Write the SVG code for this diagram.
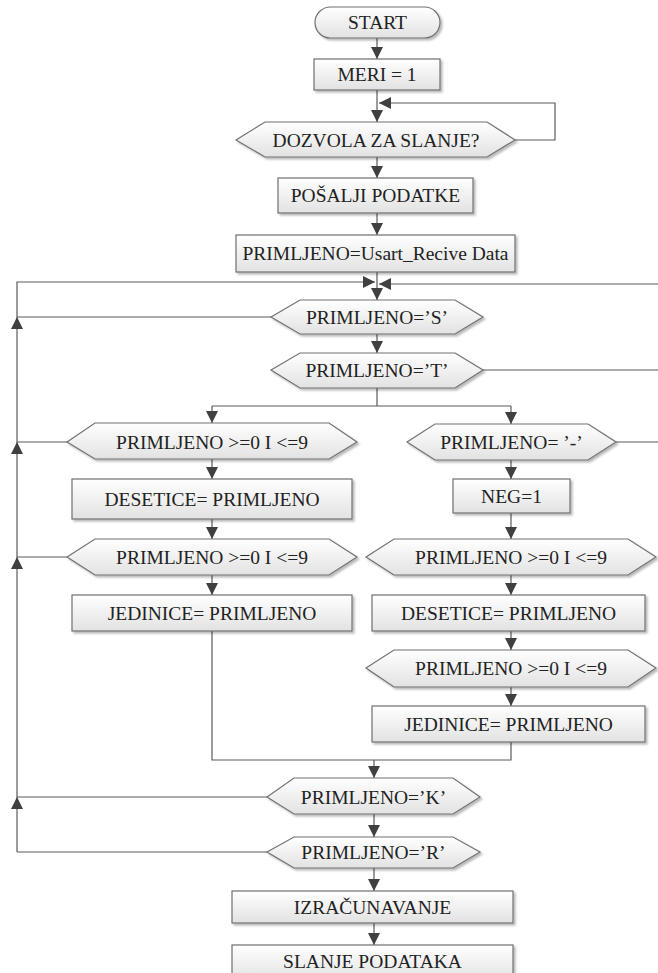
<svg xmlns="http://www.w3.org/2000/svg" width="658" height="973" viewBox="0 0 658 973">
<defs>
<linearGradient id="g" x1="0" y1="0" x2="0" y2="1">
<stop offset="0" stop-color="#ffffff"/>
<stop offset="1" stop-color="#e2e2e2"/>
</linearGradient>
<filter id="sh" x="-10%" y="-20%" width="130%" height="160%">
<feDropShadow dx="2" dy="2" stdDeviation="1" flood-color="#000" flood-opacity="0.28"/>
</filter>
<marker id="a" markerUnits="userSpaceOnUse" markerWidth="12" markerHeight="12" viewBox="0 0 10 10" refX="10" refY="5" orient="auto">
<path d="M0,0 L10,5 L0,10 Z" fill="#404040"/>
</marker>
</defs>
<style>
.n{fill:url(#g);stroke:#707070;stroke-width:1.2;filter:url(#sh)}
.t{font-family:'Liberation Serif','Times New Roman',serif;font-size:19.5px;fill:#222222;text-anchor:middle}
.c{fill:none;stroke:#5a5a5a;stroke-width:1.2}
.ar{marker-end:url(#a)}
</style>
<rect width="658" height="973" fill="#ffffff"/>
<g id="connectors">
<path class="c ar" d="M377,38 V59"/>
<path class="c ar" d="M377,90 V122"/>
<path class="c ar" d="M515,140 H555 V103 H379"/>
<path class="c ar" d="M377,157 V178"/>
<path class="c ar" d="M377,213 V235"/>
<path class="c ar" d="M377,272 V300"/>
<path class="c ar" d="M17,317 V282 H375"/>
<path class="c ar" d="M658,284 H379"/>
<path class="c ar" d="M377,334 V353"/>
<path class="c" d="M483,370 H658"/>
<path class="c" d="M377,388 V406 M212,406 H511"/>
<path class="c ar" d="M212,406 V423"/>
<path class="c ar" d="M511,406 V424"/>
<path class="c" d="M271,317 H17"/>
<path class="c" d="M616,442 H658"/>
<path class="c" d="M67,442 H17"/>
<path class="c ar" d="M17,442 V317"/>
<path class="c ar" d="M212,459 V479"/>
<path class="c ar" d="M212,519 V539"/>
<path class="c" d="M67,557 H17"/>
<path class="c ar" d="M17,557 V442"/>
<path class="c ar" d="M212,575 V595"/>
<path class="c" d="M212,631 V760 H511 V742"/>
<path class="c ar" d="M511,460 V479"/>
<path class="c ar" d="M511,513 V539"/>
<path class="c ar" d="M511,575 V595"/>
<path class="c ar" d="M511,631 V650"/>
<path class="c ar" d="M511,687 V706"/>
<path class="c ar" d="M374,760 V778"/>
<path class="c" d="M267,797 H17"/>
<path class="c ar" d="M17,797 V557"/>
<path class="c ar" d="M374,814 V837"/>
<path class="c" d="M267,852 H17"/>
<path class="c ar" d="M17,852 V797"/>
<path class="c ar" d="M374,868 V891"/>
<path class="c ar" d="M374,923 V945"/>
</g>
<g id="start"><rect class="n" x="315" y="7" width="125" height="31" rx="15.5"/><text class="t" x="377.5" y="29">START</text></g>
<g id="meri"><rect class="n" x="314" y="59" width="126" height="31"/><text class="t" x="377" y="81">MERI = 1</text></g>
<g id="dozvola"><path class="n" d="M236,140 L265,122 H487 L515,140 L487,157 H265 Z"/><text class="t" x="376" y="146.5">DOZVOLA ZA SLANJE?</text></g>
<g id="posalji"><rect class="n" x="278" y="178" width="195" height="35"/><text class="t" x="375.5" y="202">POŠALJI PODATKE</text></g>
<g id="usart"><rect class="n" x="236" y="235" width="279" height="37"/><text class="t" x="375.5" y="260">PRIMLJENO=Usart_Recive Data</text></g>
<g id="s"><path class="n" d="M271,317 L300,300 H455 L483,317 L455,334 H300 Z"/><text class="t" x="377" y="323.5">PRIMLJENO=’S’</text></g>
<g id="t"><path class="n" d="M271,370 L300,353 H455 L483,370 L455,388 H300 Z"/><text class="t" x="377" y="377">PRIMLJENO=’T’</text></g>
<g id="lhex1"><path class="n" d="M67,442 L95,423 H329 L357,442 L329,459 H95 Z"/><text class="t" x="212" y="448.5">PRIMLJENO &gt;=0 I &lt;=9</text></g>
<g id="minus"><path class="n" d="M407,442 L435,424 H588 L616,442 L588,460 H435 Z"/><text class="t" x="511.5" y="448.5">PRIMLJENO= ’-’</text></g>
<g id="ldes"><rect class="n" x="72" y="479" width="280" height="40"/><text class="t" x="212" y="505.5">DESETICE= PRIMLJENO</text></g>
<g id="neg"><rect class="n" x="453" y="479" width="117" height="34"/><text class="t" x="511.5" y="502.5">NEG=1</text></g>
<g id="lhex2"><path class="n" d="M67,557 L95,539 H329 L357,557 L329,575 H95 Z"/><text class="t" x="212" y="563.5">PRIMLJENO &gt;=0 I &lt;=9</text></g>
<g id="rhex1"><path class="n" d="M366,557 L394,539 H628 L656,557 L628,575 H394 Z"/><text class="t" x="511" y="563.5">PRIMLJENO &gt;=0 I &lt;=9</text></g>
<g id="ljed"><rect class="n" x="72" y="595" width="280" height="36"/><text class="t" x="212" y="619.5">JEDINICE= PRIMLJENO</text></g>
<g id="rdes"><rect class="n" x="372" y="595" width="273" height="36"/><text class="t" x="508.5" y="619.5">DESETICE= PRIMLJENO</text></g>
<g id="rhex2"><path class="n" d="M366,668 L394,650 H628 L656,668 L628,687 H394 Z"/><text class="t" x="511" y="674.5">PRIMLJENO &gt;=0 I &lt;=9</text></g>
<g id="rjed"><rect class="n" x="372" y="706" width="273" height="36"/><text class="t" x="508.5" y="730.5">JEDINICE= PRIMLJENO</text></g>
<g id="k"><path class="n" d="M267,797 L294,778 H453 L480,797 L453,814 H294 Z"/><text class="t" x="373.5" y="803.5">PRIMLJENO=’K’</text></g>
<g id="r"><path class="n" d="M267,852 L294,837 H453 L480,852 L453,868 H294 Z"/><text class="t" x="373.5" y="858.5">PRIMLJENO=’R’</text></g>
<g id="izr"><rect class="n" x="232" y="891" width="281" height="32"/><text class="t" x="372.5" y="913.5">IZRAČUNAVANJE</text></g>
<g id="slanje"><rect class="n" x="232" y="945" width="281" height="36"/><text class="t" x="372.5" y="968">SLANJE PODATAKA</text></g>
</svg>
